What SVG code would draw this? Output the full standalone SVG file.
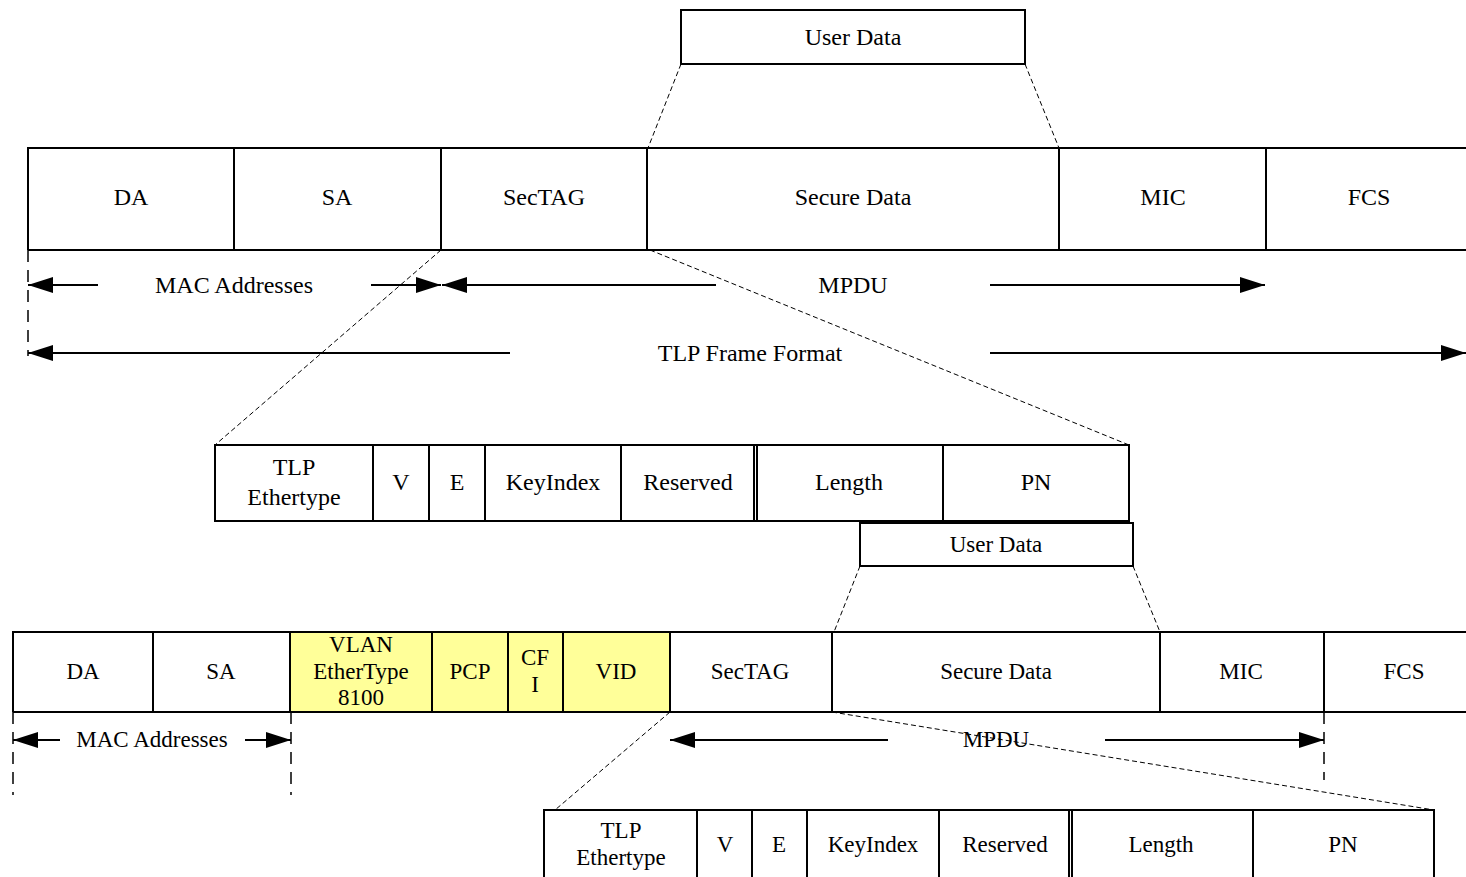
<svg xmlns="http://www.w3.org/2000/svg" width="1466" height="877" viewBox="0 0 1466 877">
  <style>
    .box { fill: #ffffff; stroke: #000; stroke-width: 2; }
    .vlan { fill: #ffff99; stroke: #000; stroke-width: 2; }
    .div { stroke: #000; stroke-width: 2; fill: none; }
    .dash { stroke: #000; stroke-width: 1; stroke-dasharray: 5 3; fill: none; }
    .guide { stroke: #000; stroke-width: 1.5; stroke-dasharray: 12 8; fill: none; }
    .arrow { stroke: #000; stroke-width: 2; fill: none; marker-end: url(#head); }
    text { font-family: "Liberation Serif", "Times New Roman", serif; font-size: 24px; fill: #000; text-anchor: middle; }
    .sm { font-size: 23px; }
  </style>
  <defs>
    <marker id="head" markerUnits="userSpaceOnUse" markerWidth="26" markerHeight="18" refX="25" refY="8" orient="auto">
      <path d="M0,0 L25,8 L0,16 z" fill="#000"/>
    </marker>
  </defs>
  <rect width="1466" height="877" fill="#fff"/>

  <!-- expansion guides (dashed) -->
  <g id="connectors">
    <path class="dash" d="M681,64 L648,148"/>
    <path class="dash" d="M1025,64 L1059,148"/>
    <path class="dash" d="M441,250 L215,445"/>
    <path class="dash" d="M650,250 L1129,445"/>
    <path class="dash" d="M860,566 L834,632"/>
    <path class="dash" d="M1133,566 L1160,632"/>
    <path class="dash" d="M670,712 L555,810"/>
    <path class="dash" d="M832,712 L1434,810"/>

    <!-- extent markers, upper frame -->
    <path class="guide" d="M28,250 V356"/>
    <path class="arrow" d="M98,285 H28"/>
    <path class="arrow" d="M371,285 H441"/>
    <path class="arrow" d="M716,285 H442"/>
    <path class="arrow" d="M990,285 H1265"/>
    <path class="arrow" d="M510,353 H28"/>
    <path class="arrow" d="M990,353 H1466"/>

    <!-- extent markers, VLAN frame -->
    <path class="guide" d="M13,712 V795"/>
    <path class="guide" d="M291,712 V795"/>
    <path class="guide" d="M1324,712 V780"/>
    <path class="arrow" d="M60,740 H13"/>
    <path class="arrow" d="M245,740 H291"/>
    <path class="arrow" d="M888,740 H670"/>
    <path class="arrow" d="M1105,740 H1324"/>
  </g>

  <g id="labels">
    <text x="234" y="293">MAC Addresses</text>
    <text x="853" y="293">MPDU</text>
    <text x="750" y="361">TLP Frame Format</text>
    <text class="sm" x="152" y="747">MAC Addresses</text>
    <text class="sm" x="996" y="747">MPDU</text>
  </g>

  <!-- user data, top -->
  <g id="userdata-top">
    <rect class="box" x="681" y="10" width="344" height="54"/>
    <text x="853" y="45">User Data</text>
  </g>

  <!-- upper frame -->
  <g id="frame-top">
    <path class="div" d="M28,250 V148 H1466 M28,250 H1466"/>
    <path class="div" d="M234,148 V250 M441,148 V250 M647,148 V250 M1059,148 V250 M1266,148 V250"/>
    <text x="131" y="205">DA</text>
    <text x="337" y="205">SA</text>
    <text x="544" y="205">SecTAG</text>
    <text x="853" y="205">Secure Data</text>
    <text x="1163" y="205">MIC</text>
    <text x="1369" y="205">FCS</text>
  </g>

  <!-- SecTAG breakdown, upper -->
  <g id="sectag-top">
    <rect class="box" x="215" y="445" width="914" height="76"/>
    <path class="div" d="M373,445 V521 M429,445 V521 M485,445 V521 M621,445 V521 M754,445 V521 M757,445 V521 M943,445 V521"/>
    <text x="294" y="475">TLP</text>
    <text x="294" y="505">Ethertype</text>
    <text x="401" y="490">V</text>
    <text x="457" y="490">E</text>
    <text x="553" y="490">KeyIndex</text>
    <text x="688" y="490">Reserved</text>
    <text x="849" y="490">Length</text>
    <text x="1036" y="490">PN</text>
  </g>

  <!-- user data, lower -->
  <g id="userdata-bottom">
    <rect class="box" x="860" y="523" width="273" height="43"/>
    <text class="sm" x="996" y="552">User Data</text>
  </g>

  <!-- VLAN-tagged frame -->
  <g id="frame-vlan">
    <rect class="vlan" x="290" y="632" width="380" height="80" stroke="none"/>
    <path class="div" d="M13,712 V632 H1466 M13,712 H1466"/>
    <path class="div" d="M153,632 V712 M290,632 V712 M432,632 V712 M508,632 V712 M563,632 V712 M670,632 V712 M832,632 V712 M1160,632 V712 M1324,632 V712"/>
    <text class="sm" x="83" y="679">DA</text>
    <text class="sm" x="221" y="679">SA</text>
    <text class="sm" x="361" y="652">VLAN</text>
    <text class="sm" x="361" y="679">EtherType</text>
    <text class="sm" x="361" y="705">8100</text>
    <text class="sm" x="470" y="679">PCP</text>
    <text class="sm" x="535" y="665">CF</text>
    <text class="sm" x="535" y="692">I</text>
    <text class="sm" x="616" y="679">VID</text>
    <text class="sm" x="750" y="679">SecTAG</text>
    <text class="sm" x="996" y="679">Secure Data</text>
    <text class="sm" x="1241" y="679">MIC</text>
    <text class="sm" x="1404" y="679">FCS</text>
  </g>

  <!-- SecTAG breakdown, lower -->
  <g id="sectag-bottom">
    <rect class="box" x="544" y="810" width="890" height="80"/>
    <path class="div" d="M697,810 V877 M752,810 V877 M807,810 V877 M939,810 V877 M1069,810 V877 M1072,810 V877 M1253,810 V877"/>
    <text class="sm" x="621" y="838">TLP</text>
    <text class="sm" x="621" y="865">Ethertype</text>
    <text class="sm" x="725" y="852">V</text>
    <text class="sm" x="779" y="852">E</text>
    <text class="sm" x="873" y="852">KeyIndex</text>
    <text class="sm" x="1005" y="852">Reserved</text>
    <text class="sm" x="1161" y="852">Length</text>
    <text class="sm" x="1343" y="852">PN</text>
  </g>
</svg>
